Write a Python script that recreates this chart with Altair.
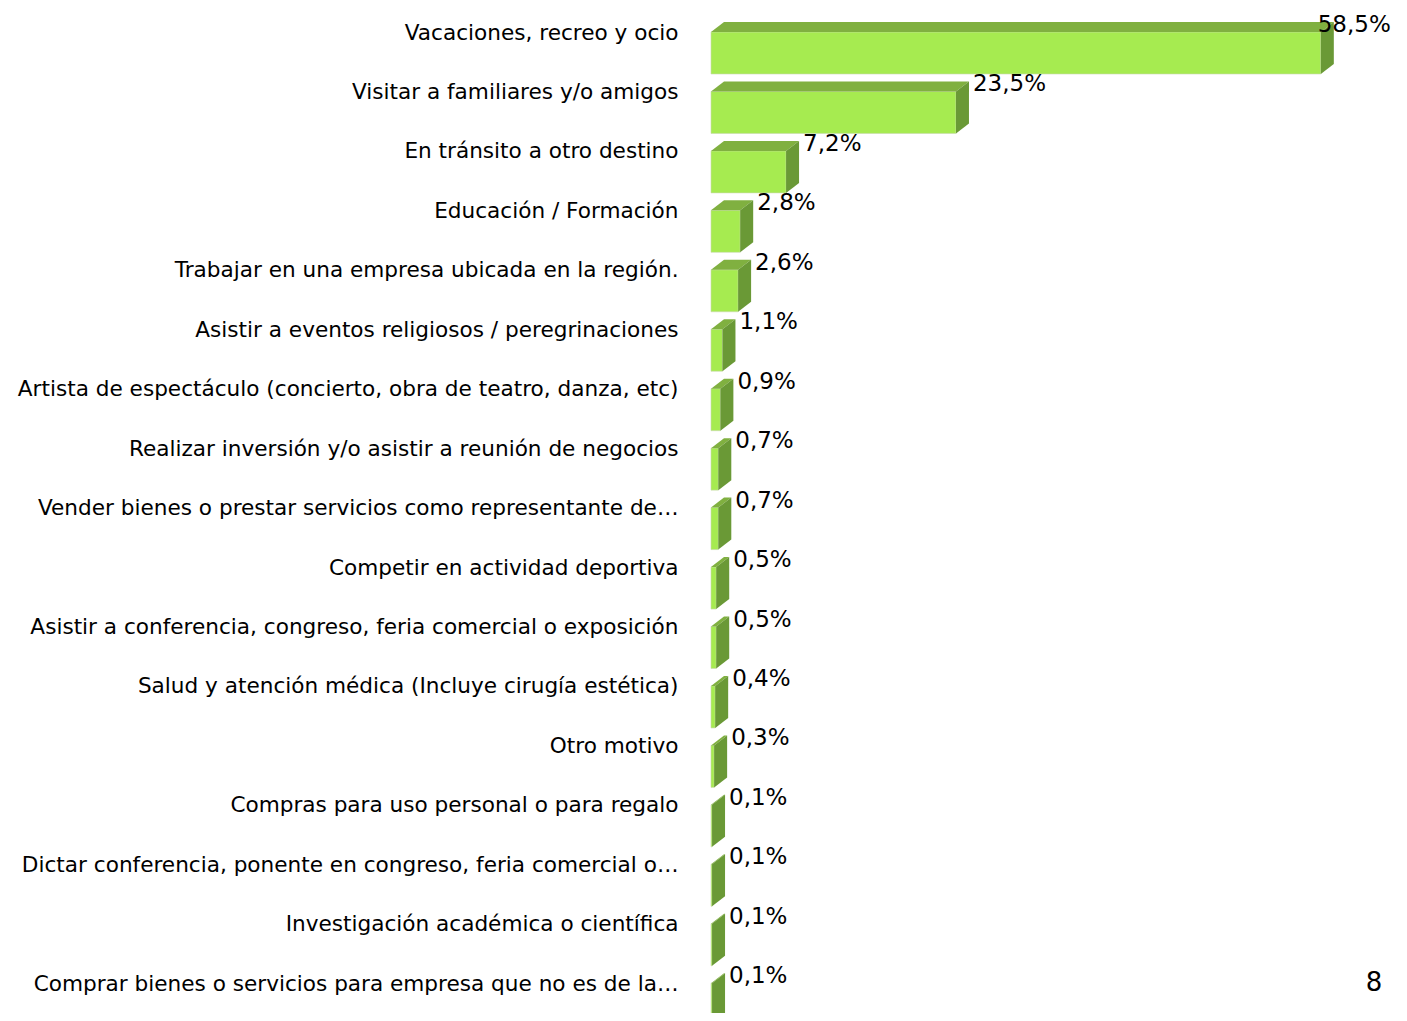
import json
import altair as alt
import pandas as pd

categories = [
    "Vacaciones, recreo y ocio",
    "Visitar a familiares y/o amigos",
    "En tránsito a otro destino",
    "Educación / Formación",
    "Trabajar en una empresa ubicada en la región.",
    "Asistir a eventos religiosos / peregrinaciones",
    "Artista de espectáculo (concierto, obra de teatro, danza, etc)",
    "Realizar inversión y/o asistir a reunión de negocios",
    "Vender bienes o prestar servicios como representante de…",
    "Competir en actividad deportiva",
    "Asistir a conferencia, congreso, feria comercial o exposición",
    "Salud y atención médica (Incluye cirugía estética)",
    "Otro motivo",
    "Compras para uso personal o para regalo",
    "Dictar conferencia, ponente en congreso, feria comercial o…",
    "Investigación académica o científica",
    "Comprar bienes o servicios para empresa que no es de la…",
]
values = [58.5, 23.5, 7.2, 2.8, 2.6, 1.1, 0.9, 0.7, 0.7, 0.5, 0.5, 0.4, 0.3, 0.1, 0.1, 0.1, 0.1]
page_number = ["8"]

# layout / style constants
W, H = 688, 1005
X_MAX = 66.0
PX_X = W / X_MAX
ROW = 59.45
Y_DOM = [-25 / ROW, (H - 25) / ROW]
DX = 13 / PX_X          # 3-D depth, horizontal
DY = 10 / ROW           # 3-D depth, vertical
FT = -1 / ROW           # front face top (relative to row)
FB = 41 / ROW           # front face bottom
LABEL_GAP = 4 / PX_X
LABEL_CAP = 58.2

FRONT = "#A6EB50"
TOP = "#80B040"
SIDE = "#6A9936"
FONT = "DejaVu Sans"

front_rows, top_rows, side_rows, lab_rows = [], [], [], []
for i, (c, v) in enumerate(zip(categories, values)):
    front_rows.append(dict(cat=c, row=i, x0=0.0, x1=v, y0=i + FT, y1=i + FB))
    top_rows.append(dict(cat=c, y=i + FT, xa=0.0, xb=v))
    top_rows.append(dict(cat=c, y=i + FT - DY, xa=DX, xb=v + DX))
    side_rows.append(dict(cat=c, x=v, ya=i + FT, yb=i + FB))
    side_rows.append(dict(cat=c, x=v + DX, ya=i + FT - DY, yb=i + FB - DY))
    lab_rows.append(dict(cat=c, lx=min(v + DX + LABEL_GAP, LABEL_CAP),
                         ly=i + FT - 7 / ROW,
                         label=f"{v:.1f}".replace(".", ",") + "%"))

front_df = pd.DataFrame(front_rows)
top_df = pd.DataFrame(top_rows)
side_df = pd.DataFrame(side_rows)
lab_df = pd.DataFrame(lab_rows)

xs = alt.Scale(domain=[0, X_MAX], nice=False, zero=False)
ys = alt.Scale(domain=Y_DOM, reverse=True, nice=False, zero=False)

label_expr = json.dumps(categories, ensure_ascii=False) + "[datum.value]"
y_axis = alt.Axis(
    values=list(range(len(categories))), labelExpr=label_expr, title=None,
    domain=False, ticks=False, grid=False, labelPadding=33, labelLimit=900,
    labelFont=FONT, labelFontSize=21.6, labelColor="#000000", labelBaseline="middle",
    labelAlign="right")

front = alt.Chart(front_df).mark_rect(fill=FRONT, stroke="#C9D9B0", strokeWidth=0.6).encode(
    x=alt.X("x0:Q", scale=xs, axis=None),
    x2="x1",
    y=alt.Y("y0:Q", scale=ys, axis=y_axis),
    y2="y1",
)

top = alt.Chart(top_df).mark_area(orient="horizontal", fill=TOP).encode(
    y=alt.Y("y:Q", scale=ys, axis=y_axis),
    x=alt.X("xa:Q", scale=xs, axis=None),
    x2="xb",
    detail="cat:N",
)

side = alt.Chart(side_df).mark_area(orient="vertical", fill=SIDE).encode(
    x=alt.X("x:Q", scale=xs, axis=None),
    y=alt.Y("ya:Q", scale=ys, axis=y_axis),
    y2="yb",
    detail="cat:N",
)

labels = alt.Chart(lab_df).mark_text(
    align="left", baseline="middle", font=FONT, fontSize=23, color="#000000"
).encode(
    x=alt.X("lx:Q", scale=xs, axis=None),
    y=alt.Y("ly:Q", scale=ys, axis=y_axis),
    text="label:N",
)

page = alt.Chart(pd.DataFrame({"p": page_number})).mark_text(
    align="center", baseline="middle", font=FONT, fontSize=26, color="#000000"
).encode(x=alt.value(663), y=alt.value(975), text="p:N")

chart = alt.layer(front, top, side, labels, page).properties(
    width=W, height=H,
    autosize=alt.AutoSizeParams(type="none"),
    padding={"left": 703, "top": 0, "right": 0, "bottom": 0},
).configure(background="#FFFFFF").configure_view(stroke=None, strokeWidth=0)

chart.save("out.html", embed_options={"renderer": "svg", "actions": False})
